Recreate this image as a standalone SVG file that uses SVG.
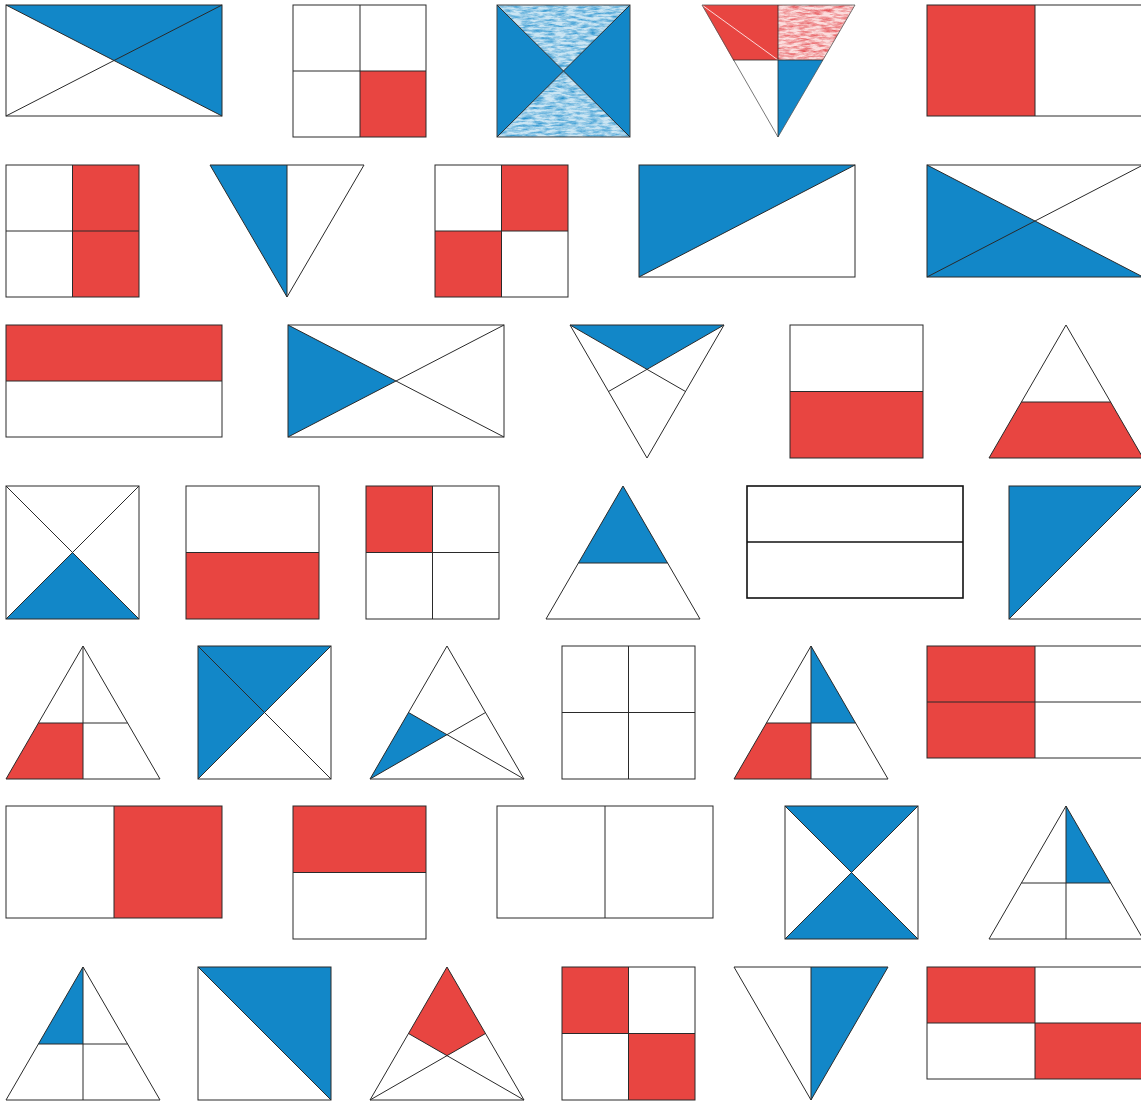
<svg xmlns="http://www.w3.org/2000/svg" width="1141" height="1101" viewBox="0 0 1141 1101">
<style>
.b{fill:#1287c8;stroke:none}
.r{fill:#e84541;stroke:none}
.w{fill:#fff;stroke:none}
.o{fill:none;stroke:#2a2a2a;stroke-width:1;stroke-linejoin:miter}
.t{fill:none;stroke:#111;stroke-width:1.6}
.lb{fill:#1287c8;fill-opacity:0.22;stroke:none}
.lr{fill:#e84541;fill-opacity:0.18;stroke:none}
</style>
<defs>
<filter id="crayB" x="0" y="0" width="100%" height="100%" color-interpolation-filters="sRGB">
<feTurbulence type="fractalNoise" baseFrequency="0.09 0.4" numOctaves="4" seed="4"/>
<feColorMatrix type="matrix" values="0 0 0 0 0.07 0 0 0 0 0.53 0 0 0 0 0.79 1.6 0 0 0 -0.55"/>
<feComposite in2="SourceGraphic" operator="in"/>
</filter>
<filter id="crayR" x="0" y="0" width="100%" height="100%" color-interpolation-filters="sRGB">
<feTurbulence type="fractalNoise" baseFrequency="0.09 0.4" numOctaves="4" seed="9"/>
<feColorMatrix type="matrix" values="0 0 0 0 0.88 0 0 0 0 0.2 0 0 0 0 0.22 1.6 0 0 0 -0.55"/>
<feComposite in2="SourceGraphic" operator="in"/>
</filter>
</defs>
<rect width="1141" height="1101" fill="#fff"/>

<!-- Row 1 -->
<g id="r1c1">
<polygon class="b" points="6,5 222,5 222,116 114,60.5"/>
<rect class="o" x="6" y="5" width="216" height="111"/>
<path class="o" d="M6,5L222,116M6,116L222,5"/>
</g>
<g id="r1c2">
<rect class="r" x="360" y="71" width="66" height="66"/>
<rect class="o" x="293" y="5" width="133" height="132"/>
<path class="o" d="M360,5V137M293,71H426"/>
</g>
<g id="r1c3">
<polygon class="b" points="497,5 563.5,71 497,137"/>
<polygon class="b" points="630,5 563.5,71 630,137"/>
<polygon class="lb" points="497,5 630,5 563.5,71"/>
<polygon class="lb" points="497,137 630,137 563.5,71"/>
<polygon fill="#fff" filter="url(#crayB)" points="497,5 630,5 563.5,71"/>
<polygon fill="#fff" filter="url(#crayB)" points="497,137 630,137 563.5,71"/>
<rect class="o" x="497" y="5" width="133" height="132" style="stroke:#444"/>
<path class="o" d="M497,5L630,137M497,137L630,5"/>
</g>
<g id="r1c4">
<polygon class="r" points="702,5 778,5 778,60 733,60"/>
<polygon class="lr" points="778,5 855,5 823,60 778,60"/>
<polygon fill="#fff" filter="url(#crayR)" points="778,5 855,5 823,60 778,60"/>
<polygon class="b" points="778,60 823,60 778,137"/>
<path d="M702,5L778,60" stroke="#fff" stroke-width="0.8" fill="none"/>
<polygon class="o" points="702,5 855,5 778,137" style="stroke:#555;stroke-width:0.8"/>
<path class="o" d="M778,5V137M733,60H823" style="stroke-width:0.8"/>
</g>
<g id="r1c5">
<rect class="r" x="927" y="5" width="108" height="111"/>
<rect class="o" x="927" y="5" width="216" height="111"/>
<path class="o" d="M1035,5V116"/>
</g>

<!-- Row 2 -->
<g id="r2c1">
<rect class="r" x="72.5" y="165" width="66.5" height="132"/>
<rect class="o" x="6" y="165" width="133" height="132"/>
<path class="o" d="M72.5,165V297M6,231H139"/>
</g>
<g id="r2c2">
<polygon class="b" points="210,165 287,165 287,297"/>
<polygon class="o" points="210,165 364,165 287,297"/>
<path class="o" d="M287,165V297"/>
</g>
<g id="r2c3">
<rect class="r" x="501.5" y="165" width="66.5" height="66"/>
<rect class="r" x="435" y="231" width="66.5" height="66"/>
<rect class="o" x="435" y="165" width="133" height="132"/>
<path class="o" d="M501.5,165V297M435,231H568"/>
</g>
<g id="r2c4">
<polygon class="b" points="639,165 855,165 639,277"/>
<rect class="o" x="639" y="165" width="216" height="112"/>
<path class="o" d="M639,277L855,165"/>
</g>
<g id="r2c5">
<polygon class="b" points="927,165 1035,221 1143,277 927,277"/>
<rect class="o" x="927" y="165" width="216" height="112"/>
<path class="o" d="M927,165L1143,277M927,277L1143,165"/>
</g>

<!-- Row 3 -->
<g id="r3c1">
<rect class="r" x="6" y="325" width="216" height="56"/>
<rect class="o" x="6" y="325" width="216" height="112"/>
<path class="o" d="M6,381H222"/>
</g>
<g id="r3c2">
<polygon class="b" points="288,325 396,381 288,437"/>
<rect class="o" x="288" y="325" width="216" height="112"/>
<path class="o" d="M288,325L504,437M288,437L504,325"/>
</g>
<g id="r3c3">
<polygon class="b" points="570,325 724,325 647,369.3"/>
<polygon class="o" points="570,325 724,325 647,458"/>
<path class="o" d="M570,325L685.5,391.5M724,325L608.5,391.5"/>
</g>
<g id="r3c4">
<rect class="r" x="790" y="391.5" width="133" height="66.5"/>
<rect class="o" x="790" y="325" width="133" height="133"/>
<path class="o" d="M790,391.5H923"/>
</g>
<g id="r3c5">
<polygon class="r" points="1021.4,402 1110.6,402 1143,458 989,458"/>
<polygon class="o" points="1066,325 1143,458 989,458"/>
<path class="o" d="M1021.4,402H1110.6"/>
</g>

<!-- Row 4 -->
<g id="r4c1">
<polygon class="b" points="6,619 72.5,552.5 139,619"/>
<rect class="o" x="6" y="486" width="133" height="133"/>
<path class="o" d="M6,486L139,619M6,619L139,486"/>
</g>
<g id="r4c2">
<rect class="r" x="186" y="552.5" width="133" height="66.5"/>
<rect class="o" x="186" y="486" width="133" height="133"/>
<path class="o" d="M186,552.5H319"/>
</g>
<g id="r4c3">
<rect class="r" x="366" y="486" width="66.5" height="66.5"/>
<rect class="o" x="366" y="486" width="133" height="133"/>
<path class="o" d="M432.5,486V619M366,552.5H499"/>
</g>
<g id="r4c4">
<polygon class="b" points="623,486 667.6,563 578.4,563"/>
<polygon class="o" points="623,486 700,619 546,619"/>
<path class="o" d="M578.4,563H667.6"/>
</g>
<g id="r4c5">
<rect class="t" x="747" y="486" width="216" height="112"/>
<path class="t" d="M747,542H963"/>
</g>
<g id="r4c6">
<polygon class="b" points="1009,486 1142,486 1009,619"/>
<rect class="o" x="1009" y="486" width="133" height="133"/>
<path class="o" d="M1009,619L1142,486"/>
</g>

<!-- Row 5 -->
<g id="r5c1">
<polygon class="r" points="38.4,723 83,723 83,779 6,779"/>
<polygon class="o" points="83,646 160,779 6,779"/>
<path class="o" d="M83,646V779M38.4,723H127.6"/>
</g>
<g id="r5c2">
<polygon class="b" points="198,646 331,646 264.5,712.5 198,779"/>
<rect class="o" x="198" y="646" width="133" height="133"/>
<path class="o" d="M198,646L331,779M198,779L331,646"/>
</g>
<g id="r5c3">
<polygon class="b" points="370,779 408.5,712.5 447,734.7"/>
<polygon class="o" points="447,646 524,779 370,779"/>
<path class="o" d="M370,779L485.5,712.5M524,779L408.5,712.5"/>
</g>
<g id="r5c4">
<rect class="o" x="562" y="646" width="133" height="133"/>
<path class="o" d="M628.5,646V779M562,712.5H695"/>
</g>
<g id="r5c5">
<polygon class="b" points="811,646 855.6,723 811,723"/>
<polygon class="r" points="766.4,723 811,723 811,779 734,779"/>
<polygon class="o" points="811,646 888,779 734,779"/>
<path class="o" d="M811,646V779M766.4,723H855.6"/>
</g>
<g id="r5c6">
<rect class="r" x="927" y="646" width="108" height="112"/>
<rect class="o" x="927" y="646" width="216" height="112"/>
<path class="o" d="M1035,646V758M927,702H1143"/>
</g>

<!-- Row 6 -->
<g id="r6c1">
<rect class="r" x="114" y="806" width="108" height="112"/>
<rect class="o" x="6" y="806" width="216" height="112"/>
<path class="o" d="M114,806V918"/>
</g>
<g id="r6c2">
<rect class="r" x="293" y="806" width="133" height="66.5"/>
<rect class="o" x="293" y="806" width="133" height="133"/>
<path class="o" d="M293,872.5H426"/>
</g>
<g id="r6c3">
<rect class="o" x="497" y="806" width="216" height="112"/>
<path class="o" d="M605,806V918"/>
</g>
<g id="r6c4">
<polygon class="b" points="785,806 918,806 851.5,872.5"/>
<polygon class="b" points="785,939 918,939 851.5,872.5"/>
<rect class="o" x="785" y="806" width="133" height="133"/>
<path class="o" d="M785,806L918,939M785,939L918,806"/>
</g>
<g id="r6c5">
<polygon class="b" points="1066,806 1110.6,883 1066,883"/>
<polygon class="o" points="1066,806 1143,939 989,939"/>
<path class="o" d="M1066,806V939M1021.4,883H1110.6"/>
</g>

<!-- Row 7 -->
<g id="r7c1">
<polygon class="b" points="83,967 83,1044 38.4,1044"/>
<polygon class="o" points="83,967 160,1100 6,1100"/>
<path class="o" d="M83,967V1100M38.4,1044H127.6"/>
</g>
<g id="r7c2">
<polygon class="b" points="198,967 331,967 331,1100"/>
<rect class="o" x="198" y="967" width="133" height="133"/>
<path class="o" d="M198,967L331,1100"/>
</g>
<g id="r7c3">
<polygon class="r" points="447,967 485.5,1033.5 447,1055.7 408.5,1033.5"/>
<polygon class="o" points="447,967 524,1100 370,1100"/>
<path class="o" d="M370,1100L485.5,1033.5M524,1100L408.5,1033.5"/>
</g>
<g id="r7c4">
<rect class="r" x="562" y="967" width="66.5" height="66.5"/>
<rect class="r" x="628.5" y="1033.5" width="66.5" height="66.5"/>
<rect class="o" x="562" y="967" width="133" height="133"/>
<path class="o" d="M628.5,967V1100M562,1033.5H695"/>
</g>
<g id="r7c5">
<polygon class="b" points="811,967 888,967 811,1100"/>
<polygon class="o" points="734,967 888,967 811,1100"/>
<path class="o" d="M811,967V1100"/>
</g>
<g id="r7c6">
<rect class="r" x="927" y="967" width="108" height="56"/>
<rect class="r" x="1035" y="1023" width="108" height="56"/>
<rect class="o" x="927" y="967" width="216" height="112"/>
<path class="o" d="M1035,967V1079M927,1023H1143"/>
</g>
</svg>
